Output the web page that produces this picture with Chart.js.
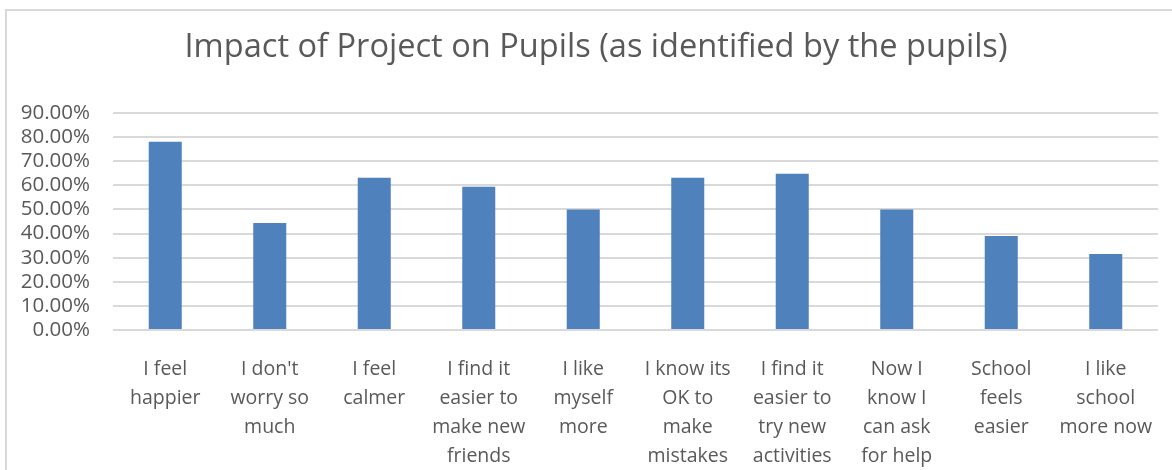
<!DOCTYPE html>
<html>
<head>
<meta charset="utf-8">
<script src="https://cdn.jsdelivr.net/npm/chart.js@4.4.1/dist/chart.umd.min.js"></script>
<style>
  html, body { margin: 0; padding: 0; background: #fff; }
  #wrap { position: relative; width: 1172px; height: 470px; overflow: hidden; }
  #frame { position: absolute; left: 5px; top: 9px; width: 1200px; height: 500px;
           border-left: 2px solid #d9d9d9; border-top: 2px solid #d9d9d9; pointer-events: none; }
  #title { position: absolute; left: 96px; width: 1000px; top: 23px; text-align: center;
           font-family: "Open Sans", "DejaVu Sans", sans-serif; font-size: 32.6px; line-height: 44px;
           color: #595959; white-space: nowrap; }
  canvas { position: absolute; left: 0; top: 0; }
</style>
</head>
<body>
<div id="wrap">
  <canvas id="c" width="1172" height="470"></canvas>
  <div id="title"></div>
  <div id="frame"></div>
</div>
<script>
const titleText = 'Impact of Project on Pupils (as identified by the pupils)';
const categories = [
  ['I feel', 'happier'],
  ["I don't", 'worry so', 'much'],
  ['I feel', 'calmer'],
  ['I find it', 'easier to', 'make new', 'friends'],
  ['I like', 'myself', 'more'],
  ['I know its', 'OK to', 'make', 'mistakes'],
  ['I find it', 'easier to', 'try new', 'activities'],
  ['Now I', 'know I', 'can ask', 'for help'],
  ['School', 'feels', 'easier'],
  ['I like', 'school', 'more now']
];
const values = [78.1, 44.4, 63.1, 59.4, 50.0, 63.1, 64.8, 50.0, 39.0, 31.5];
const yMin = 0, yMax = 90, yStep = 10;

const textColor = '#595959';
const fontFamily = '"Open Sans", "DejaVu Sans", sans-serif';

document.getElementById('title').textContent = titleText;

new Chart(document.getElementById('c'), {
  type: 'bar',
  data: {
    labels: categories,
    datasets: [{
      data: values,
      backgroundColor: '#4f81bd',
      borderWidth: 0,
      barPercentage: 0.316,
      categoryPercentage: 1.0
    }]
  },
  options: {
    responsive: false,
    animation: false,
    devicePixelRatio: 1,
    layout: { padding: { left: 0, right: 14, top: 113, bottom: 0 } },
    plugins: {
      legend: { display: false },
      tooltip: { enabled: false },
      title: { display: false }
    },
    scales: {
      x: {
        grid: { display: false },
        border: { display: false },
        ticks: {
          color: textColor,
          font: { family: fontFamily, size: 19.5, lineHeight: 1.49 },
          maxRotation: 0,
          minRotation: 0,
          autoSkip: false,
          padding: 17
        },
        afterFit: (s) => { s.height = 140; }
      },
      y: {
        min: yMin,
        max: yMax,
        grid: { color: '#d9d9d9', lineWidth: 2, drawTicks: false },
        border: { display: false },
        ticks: {
          stepSize: yStep,
          autoSkip: false,
          color: textColor,
          font: { family: fontFamily, size: 20.5 },
          padding: 23,
          callback: (v) => v.toFixed(2) + '%'
        },
        afterFit: (s) => { s.width = 113; }
      }
    }
  }
});
</script>
</body>
</html>
